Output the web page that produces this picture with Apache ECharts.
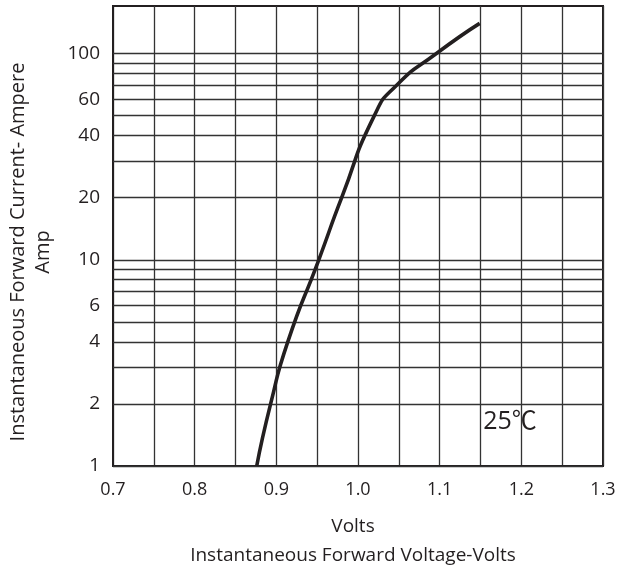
<!DOCTYPE html>
<html>
<head>
<meta charset="utf-8">
<script src="https://cdn.jsdelivr.net/npm/echarts@6/dist/echarts.min.js"></script>
<style>
  html, body { margin: 0; padding: 0; background: #ffffff; }
  #chart { width: 617px; height: 569px; }
</style>
</head>
<body>
<div id="chart"></div>
<script>
// Forward characteristic at 25 °C: forward voltage (V) against forward current (A)
const forwardVolts = [0.876, 0.893, 0.914, 0.952, 0.980, 1.020, 1.047, 1.096, 1.149];
const forwardAmps  = [1,     2,     4,     10,    20,    50,    70,    100,   140];

// Horizontal rulings of the current axis and the values that carry a label
const currentGridValues = [1, 2, 3, 4, 5, 6, 7, 8, 9, 10, 20, 30, 40, 50, 60, 70, 80, 90, 100];
const currentTickLabels = [1, 2, 4, 6, 10, 20, 40, 60, 100];

const ink = '#231f20';
const rule = '#333333';
const fontFamily = '"Open Sans", "Noto Sans", "DejaVu Sans", sans-serif';

const chart = echarts.init(document.getElementById('chart'), null, { renderer: 'canvas' });

const rulings = currentGridValues.map(v => ({
  yAxis: v,
  label: { show: currentTickLabels.includes(v), formatter: String(v) }
}));

const option = {
  animation: false,
  backgroundColor: '#ffffff',
  grid: {
    left: 113, right: 14, top: 6, bottom: 103,
    containLabel: false,
    outerBoundsMode: 'none',
    show: true, borderColor: ink, borderWidth: 2, backgroundColor: 'transparent'
  },
  xAxis: {
    type: 'value', min: 0.7, max: 1.3, interval: 0.05,
    axisLine: { show: true, onZero: false, lineStyle: { color: ink, width: 2 } },
    axisTick: { show: false },
    splitLine: { show: true, lineStyle: { color: rule, width: 1.3 } },
    axisLabel: {
      margin: 15, color: ink, fontSize: 18, fontFamily,
      formatter: v => {
        const r = Math.round(v * 100);
        return r % 10 === 0 ? (r / 100).toFixed(1) : '';
      }
    },
    name: 'Volts\nInstantaneous Forward Voltage-Volts',
    nameLocation: 'middle', nameGap: 46,
    nameTextStyle: { color: ink, fontSize: 19, lineHeight: 29, fontFamily, padding: [0, 10, 0, 0] }
  },
  yAxis: {
    type: 'log', logBase: 10, min: 1, max: 170,
    axisLine: { show: true, lineStyle: { color: ink, width: 2 } },
    axisTick: { show: false },
    axisLabel: { show: false },
    splitLine: { show: false },
    name: 'Instantaneous Forward Current- Ampere\nAmp',
    nameLocation: 'middle', nameRotate: 90, nameGap: 57,
    nameTextStyle: { color: ink, fontSize: 20, lineHeight: 25, fontFamily, padding: [0, 32, 0, 0] }
  },
  series: [
    {
      // rulings and current labels
      type: 'line',
      data: [],
      z: 1,
      markLine: {
        silent: true,
        symbol: 'none',
        animation: false,
        lineStyle: { color: rule, width: 1.3, type: 'solid' },
        label: { position: 'start', distance: 13, color: ink, fontSize: 19, fontFamily },
        emphasis: { disabled: true },
        data: rulings
      }
    },
    {
      type: 'line',
      data: forwardVolts.map((v, i) => [v, forwardAmps[i]]),
      smooth: 0.6,
      symbol: 'none',
      showSymbol: false,
      lineStyle: { color: ink, width: 3.6 },
      z: 5
    }
  ],
  graphic: [
    {
      type: 'group',
      left: 470, top: 397, z: 20,
      children: [
        { type: 'rect', shape: { x: 0, y: 0, width: 80, height: 48 }, style: { fill: '#ffffff' } },
        {
          type: 'text', x: 40, y: 25,
          style: {
            text: '25℃', fill: ink, fontSize: 25,
            fontFamily: '"Open Sans", "Noto Sans CJK SC", sans-serif',
            align: 'center', verticalAlign: 'middle'
          }
        }
      ]
    }
  ]
};

chart.setOption(option);
</script>
</body>
</html>
